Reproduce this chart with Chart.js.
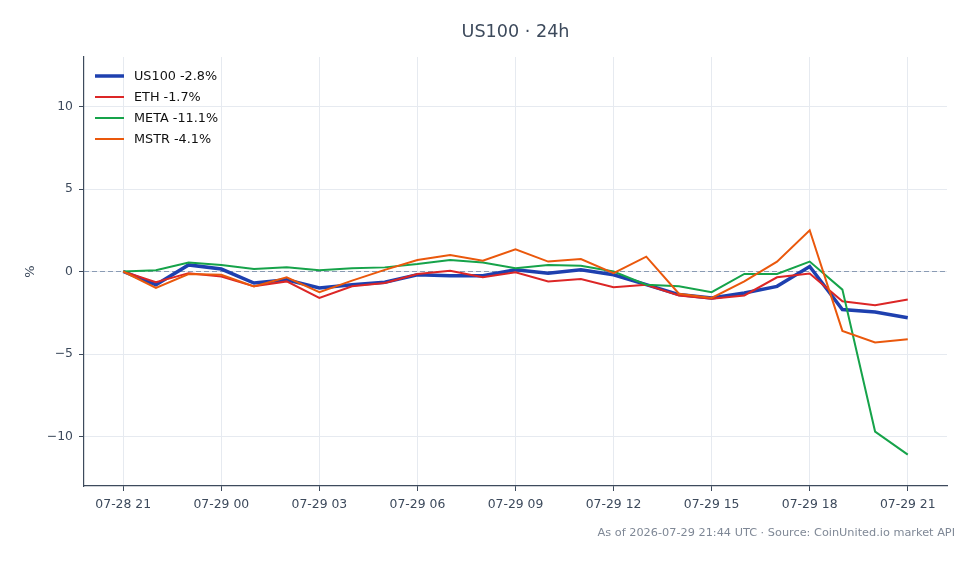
<!DOCTYPE html>
<html>
<head>
<meta charset="utf-8">
<script src="https://cdn.jsdelivr.net/npm/chart.js@4.4.1/dist/chart.umd.min.js"></script>
<style>
  html, body { margin: 0; padding: 0; background: #ffffff; }
  #wrap { width: 979px; height: 564px; position: relative; }
</style>
</head>
<body>
<div id="wrap"><canvas id="c" width="979" height="564"></canvas></div>
<script>
// hourly timestamps (UTC)
const timeLabels = [
  "07-28 21","07-28 22","07-28 23","07-29 00","07-29 01","07-29 02","07-29 03",
  "07-29 04","07-29 05","07-29 06","07-29 07","07-29 08","07-29 09","07-29 10",
  "07-29 11","07-29 12","07-29 13","07-29 14","07-29 15","07-29 16","07-29 17",
  "07-29 18","07-29 19","07-29 20","07-29 21"
];
const xTickIndex = [0, 3, 6, 9, 12, 15, 18, 21, 24];
const yTickValues = [-10, -5, 0, 5, 10];

const us100 = [0, -0.8, 0.4, 0.15, -0.7, -0.5, -1.0, -0.8, -0.65, -0.2, -0.25, -0.25, 0.1, -0.1, 0.1, -0.2, -0.8, -1.4, -1.6, -1.3, -0.9, 0.3, -2.3, -2.45, -2.8];
const eth   = [0, -0.65, -0.1, -0.3, -0.9, -0.6, -1.6, -0.9, -0.7, -0.15, 0.05, -0.35, -0.05, -0.6, -0.45, -0.95, -0.8, -1.45, -1.65, -1.45, -0.35, -0.12, -1.8, -2.05, -1.7];
const meta  = [0, 0.07, 0.55, 0.4, 0.15, 0.25, 0.07, 0.2, 0.25, 0.45, 0.7, 0.55, 0.2, 0.4, 0.35, 0.0, -0.8, -0.9, -1.25, -0.15, -0.15, 0.6, -1.1, -9.7, -11.1];
const mstr  = [0, -1.0, -0.15, -0.2, -0.9, -0.35, -1.25, -0.55, 0.1, 0.7, 1.0, 0.65, 1.35, 0.6, 0.75, -0.1, 0.9, -1.35, -1.6, -0.6, 0.6, 2.5, -3.6, -4.3, -4.1];

const seriesLabels = ["US100 -2.8%", "ETH -1.7%", "META -11.1%", "MSTR -4.1%"];
const seriesColors = ["#1e40af", "#dc2626", "#16a34a", "#ea580c"];
const seriesWidths = [3.5, 2, 2, 2];

const titleText = "US100 \u00b7 24h";
const footerText = "As of 2026-07-29 21:44 UTC \u00b7 Source: CoinUnited.io market API";

const FONT = "'DejaVu Sans', sans-serif";
const INK = "#3d4a5c";

function pts(arr) { return arr.map((v, i) => ({ x: i, y: v })); }
const allSeries = [us100, eth, meta, mstr];
// later series drawn on top (lower order = drawn last in Chart.js)
const datasets = allSeries.map((s, k) => ({
  label: seriesLabels[k],
  data: pts(s),
  borderColor: seriesColors[k],
  backgroundColor: seriesColors[k],
  borderWidth: seriesWidths[k],
  pointRadius: 0,
  tension: 0,
  fill: false,
  order: allSeries.length - k
}));

const overlay = {
  id: 'overlay',
  beforeDatasetsDraw(chart) {
    const { ctx, chartArea, scales } = chart;
    const y0 = scales.y.getPixelForValue(0);
    ctx.save();
    ctx.strokeStyle = "#8a9bb4";
    ctx.lineWidth = 1;
    ctx.setLineDash([5, 3]);
    ctx.beginPath();
    ctx.moveTo(chartArea.left, y0);
    ctx.lineTo(chartArea.right, y0);
    ctx.stroke();
    ctx.restore();
  },
  afterDraw(chart) {
    const { ctx, chartArea } = chart;
    ctx.save();
    // title centered over axes
    ctx.fillStyle = INK;
    ctx.font = "17.6px " + FONT;
    ctx.textAlign = "center";
    ctx.textBaseline = "middle";
    ctx.fillText(titleText, (chartArea.left + chartArea.right) / 2, 32);
    // footer
    ctx.fillStyle = "#7f8896";
    ctx.font = "11.3px " + FONT;
    ctx.textAlign = "right";
    ctx.fillText(footerText, 955, 533);
    // legend
    ctx.font = "12.8px " + FONT;
    ctx.textAlign = "left";
    ctx.textBaseline = "middle";
    for (let k = 0; k < seriesLabels.length; k++) {
      const yy = 76 + k * 21;
      ctx.strokeStyle = seriesColors[k];
      ctx.lineWidth = seriesWidths[k];
      ctx.setLineDash([]);
      ctx.beginPath();
      ctx.moveTo(95, yy);
      ctx.lineTo(124, yy);
      ctx.stroke();
      ctx.fillStyle = "#111111";
      ctx.fillText(seriesLabels[k], 134, yy + 0.5);
    }
    ctx.restore();
  }
};

new Chart(document.getElementById('c'), {
  type: 'line',
  data: { datasets },
  plugins: [overlay],
  options: {
    responsive: false,
    animation: false,
    layout: { padding: { left: 0, top: 57, right: 32, bottom: 38 } },
    plugins: { legend: { display: false }, tooltip: { enabled: false }, title: { display: false } },
    scales: {
      x: {
        type: 'linear',
        min: -1.2, max: 25.2,
        afterBuildTicks(scale) { scale.ticks = xTickIndex.map(v => ({ value: v })); },
        afterFit(scale) { scale.height = 40; },
        ticks: {
          callback: (v) => timeLabels[v],
          color: INK,
          font: { family: FONT, size: 12.4 },
          padding: 6,
          maxRotation: 0,
          autoSkip: false
        },
        grid: { color: "#e6eaf0", lineWidth: 1, tickColor: INK, tickLength: 5, drawTicks: true },
        border: { color: "#3d4a5c", width: 1.2 }
      },
      y: {
        type: 'linear',
        min: -13, max: 13,
        afterBuildTicks(scale) { scale.ticks = yTickValues.map(v => ({ value: v })); },
        afterFit(scale) { scale.width = 84; },
        ticks: {
          callback: (v) => (v < 0 ? "\u2212" + Math.abs(v) : String(v)),
          color: INK,
          font: { family: FONT, size: 12.4 },
          padding: 6
        },
        title: { display: true, text: "%", color: INK, font: { family: FONT, size: 13 }, padding: { top: 23, bottom: 0 } },
        grid: { color: "#e6eaf0", lineWidth: 1, tickColor: INK, tickLength: 5, drawTicks: true },
        border: { color: "#3d4a5c", width: 1.2 }
      }
    }
  }
});
</script>
</body>
</html>
